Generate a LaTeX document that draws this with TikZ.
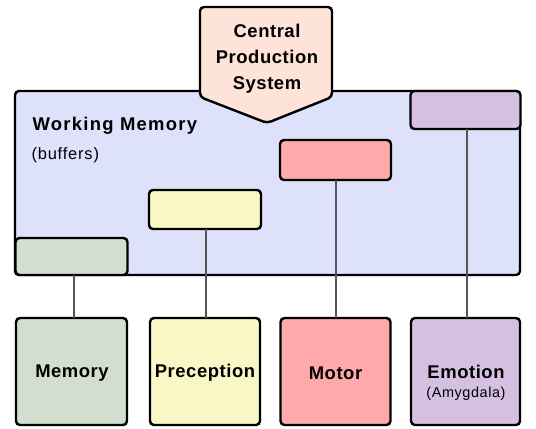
\documentclass[tikz,border=0pt]{standalone}
\usepackage{fontspec}
\setmainfont{Liberation Sans}
\definecolor{wmfill}{HTML}{DDE1FA}
\definecolor{cpsfill}{HTML}{FDE3D8}
\definecolor{memfill}{HTML}{D3DFCE}
\definecolor{perfill}{HTML}{FAF7C6}
\definecolor{motfill}{HTML}{FFA9AB}
\definecolor{emofill}{HTML}{D5C0E2}
\definecolor{linkgray}{HTML}{555555}
\begin{document}
\begin{tikzpicture}[x=1bp,y=-1bp,
  box/.style={draw=black,line width=2.4bp,rounded corners=4bp,inner sep=0pt,outer sep=0pt},
  link/.style={draw=linkgray,line width=2.4bp},
  bigtxt/.style={font=\fontsize{18.5}{26}\selectfont\bfseries\addfontfeatures{LetterSpace=3}},
  wmtxt/.style={font=\fontsize{18.5}{26}\selectfont\bfseries\addfontfeatures{LetterSpace=7}},
  smalltxt/.style={font=\fontsize{14.5}{20}\selectfont\addfontfeatures{LetterSpace=4}},
  buftxt/.style={font=\fontsize{16.5}{20}\selectfont\addfontfeatures{LetterSpace=5}}]
\useasboundingbox (0,0) rectangle (536,428);
% working memory
\node[box,fill=wmfill,minimum width=505bp,minimum height=184bp] (wm) at (267.5,183) {};
\node[wmtxt,anchor=west] (wmt) at (29,126) {Working Memory};
\node[buftxt,anchor=west] (wms) at (28,155) {(buffers)};
% buffers
\node[box,fill=emofill,minimum width=110bp,minimum height=38bp] (emobuf) at (465.5,110) {};
\node[box,fill=motfill,minimum width=111bp,minimum height=40bp] (motbuf) at (335.5,160) {};
\node[box,fill=perfill,minimum width=112bp,minimum height=39bp] (perbuf) at (205,209.5) {};
\node[box,fill=memfill,minimum width=112bp,minimum height=37bp] (membuf) at (71.5,256.5) {};
% bottom boxes
\node[box,fill=memfill,minimum width=111bp,minimum height=107bp] (mem) at (71.5,371.5) {};
\node[box,fill=perfill,minimum width=110bp,minimum height=107bp] (per) at (205,371.5) {};
\node[box,fill=motfill,minimum width=110bp,minimum height=107bp] (mot) at (335.5,371.5) {};
\node[box,fill=emofill,minimum width=109bp,minimum height=107bp] (emo) at (465.5,371.5) {};
% connectors
\draw[link] ([xshift=2.5bp]membuf.south) -- ([xshift=2.5bp]mem.north);
\draw[link] ([xshift=1bp]perbuf.south) -- ([xshift=1bp]per.north);
\draw[link] ([xshift=0.5bp]motbuf.south) -- ([xshift=0.5bp]mot.north);
\draw[link] ([xshift=1.5bp]emobuf.south) -- ([xshift=1.5bp]emo.north);
% labels
\node[bigtxt] (memt) at (72,373) {Memory};
\node[bigtxt] (pert) at (205,373) {Preception};
\node[bigtxt] (mott) at (335.5,373) {Motor};
\node[bigtxt] (emot) at (466,372) {Emotion};
\node[smalltxt] (emos) at (466,394) {(Amygdala)};
% central production system
\draw[box,fill=cpsfill] (200,7) -- (332,7) -- (332,97) -- (267,123) -- (200,97) -- cycle;
\node[bigtxt,align=center] (cps) at (267,59) {Central\\Production\\System};
\end{tikzpicture}
\end{document}
